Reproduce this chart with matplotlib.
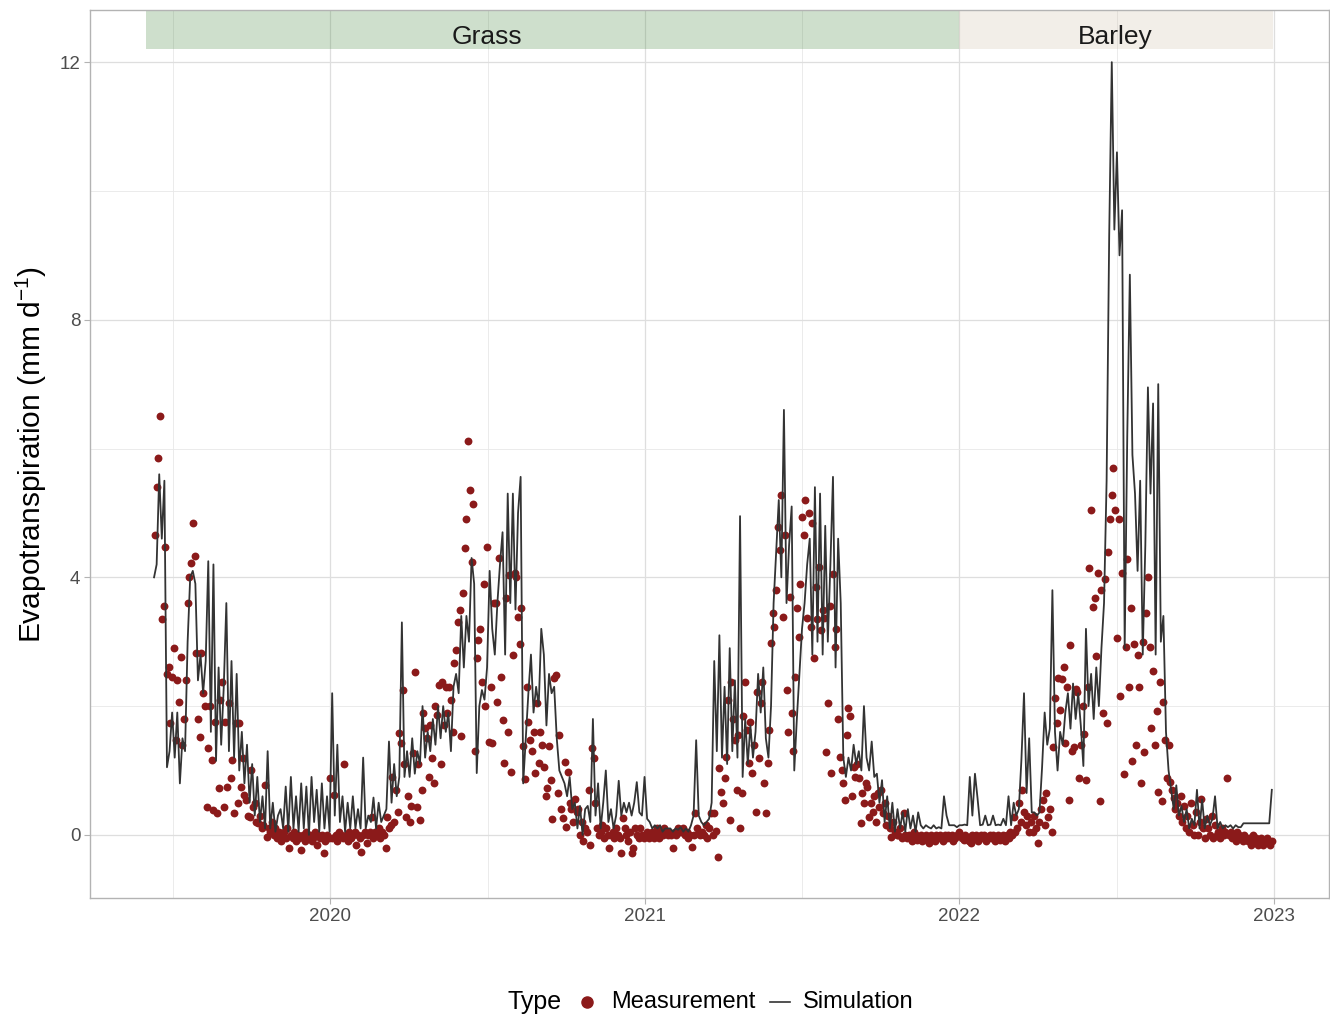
import matplotlib
matplotlib.use('Agg')
import matplotlib.pyplot as plt
import matplotlib.dates as mdates
from matplotlib.lines import Line2D
from matplotlib.patches import Rectangle
import numpy as np
import pandas as pd

plt.rcParams['font.family'] = ['Liberation Sans', 'DejaVu Sans']
plt.rcParams['mathtext.fontset'] = 'custom'
plt.rcParams['mathtext.rm'] = 'Liberation Sans'
plt.rcParams['mathtext.it'] = 'Liberation Sans'

# ---------------- data ----------------
# Simulated ET (mm/d), every 3 days starting 2019-06-10
sim_2019 = [4.0, 4.2, 5.6, 4.6, 5.5, 1.05, 1.3, 1.9, 1.2, 1.9, 0.8, 1.5, 1.3, 3.0, 4.0, 4.1, 3.9,
            2.4, 2.8, 2.2, 2.7, 4.25, 1.6, 4.2, 1.15, 2.6, 1.4, 2.3, 3.6, 1.3, 2.7, 1.2, 2.5,
            1.0, 1.6, 0.8, 1.4, 0.5, 1.1, 0.3, 0.9, 0.2, 0.6, 0.1, 1.3, 0.1, 0.5, 0.05, 0.3,
            0.4, 0.1, 0.75, 0.05, 0.9, 0.1, 0.6, 0.05, 0.8, 0.1, 0.75, 0.0, 0.9, 0.2, 0.7,
            0.05, 0.8, 0.1, 0.6, 0.05]
sim_2020 = [2.2, 0.3, 1.4, 0.2, 0.6, 0.05, 0.5, 0.1, 0.6, 0.1, 0.4, 0.1, 1.2, 0.1, 0.3, 0.2,
            0.58, 0.1, 0.5, 0.2, 0.3, 0.4, 1.45, 0.5, 1.1, 0.6, 0.9, 3.3, 0.9, 1.3, 0.9, 1.5,
            0.95, 1.3, 1.1, 2.0, 1.2, 1.6, 1.3, 1.8, 1.4, 2.0, 1.5, 2.0, 1.6, 1.9, 1.3, 2.3,
            2.5, 2.2, 3.4, 2.6, 3.4, 3.0, 4.3, 3.9, 0.96, 2.0, 2.25, 2.1, 2.6, 4.1, 3.2, 2.8,
            3.6, 4.2, 4.7, 2.8, 5.3, 3.6, 5.3, 3.5, 5.0, 5.56, 0.8, 1.5, 2.2, 2.8, 1.9, 2.3,
            2.0, 3.2, 2.8, 1.7, 2.5, 2.2, 2.3, 1.5, 1.0, 0.9, 0.8, 0.6, 0.9, 0.4, 0.5, 0.1,
            0.45, 0.0, 0.4, 0.45, 0.2, 1.8, 0.3, 0.8, 0.1, 0.5, 1.0, 0.2, 0.4, 0.1, 0.3, 0.84,
            0.3, 0.5, 0.35, 0.5, 0.3, 0.5, 0.82, 0.35, 0.3, 0.9]
sim_2021 = [0.25, 0.2, 0.1, 0.15, 0.1, 0.15, 0.05, 0.1, 0.1, 0.1, 0.05, 0.1, 0.08, 0.12, 0.05,
            0.1, 0.05, 0.15, 0.3, 1.47, 0.3, 0.2, 0.15, 0.2, 0.25, 0.5, 2.7, 1.3, 3.1, 1.2,
            2.3, 1.1, 2.9, 1.3, 2.4, 1.2, 4.95, 0.9, 1.8, 1.1, 1.7, 1.2, 1.6, 2.5, 1.9, 2.6,
            1.5, 1.2, 2.0, 3.6, 4.4, 5.2, 4.0, 6.6, 3.6, 4.5, 5.1, 1.0, 1.8, 2.5, 3.2, 3.6,
            4.2, 4.6, 2.8, 5.4, 3.0, 5.3, 2.8, 4.8, 3.0, 4.2, 5.56, 2.6, 4.6, 3.6, 1.2, 0.9,
            1.2, 1.0, 1.4, 1.1, 1.3, 1.0, 2.0, 1.2, 1.0, 1.45, 0.9, 0.95, 0.5, 0.85, 0.2, 0.6,
            0.1, 0.5, 0.05, 0.4, 0.1, 0.35, 0.05, 0.4, 0.1, 0.3, 0.05, 0.35, 0.15, 0.1, 0.15,
            0.12, 0.1, 0.15, 0.1, 0.12, 0.1, 0.6, 0.3, 0.15, 0.15, 0.15, 0.12, 0.15]
sim_2022 = [0.15, 0.16, 0.15, 0.9, 0.3, 0.95, 0.57, 0.15, 0.16, 0.3, 0.15, 0.16, 0.3, 0.15,
            0.16, 0.15, 0.25, 0.15, 0.6, 0.15, 0.5, 0.3, 0.4, 1.17, 2.2, 0.65, 1.5, 0.35, 0.35,
            0.3, 0.35, 1.05, 1.9, 1.4, 1.65, 3.8, 1.6, 1.0, 1.6, 1.4, 1.9, 2.2, 1.65, 2.35,
            1.8, 2.2, 1.7, 1.07, 3.2, 2.0, 2.5, 1.8, 2.6, 2.0, 2.9, 3.6, 5.5, 9.3, 12.0, 9.4,
            10.6, 9.0, 9.7, 2.9, 6.2, 8.7, 5.9, 5.3, 4.1, 5.5, 2.8, 4.5, 6.95, 5.3, 6.7, 2.8,
            7.0, 3.0, 3.4, 1.6, 1.0, 0.7, 0.4, 0.77, 0.3, 0.45, 0.2, 0.4, 0.1, 0.25, 0.15, 0.7,
            0.1, 0.55, 0.1, 0.3, 0.15, 0.25, 0.6, 0.1, 0.2, 0.1, 0.15, 0.12, 0.15, 0.1, 0.15,
            0.12, 0.12, 0.18, 0.18, 0.18, 0.18, 0.18, 0.18, 0.18, 0.18, 0.18, 0.18, 0.18, 0.7]

# Measured ET (mm/d), every 2 days starting 2019-06-11
meas_seg1 = [4.65, 5.4, 5.85, 6.5, 3.35, 3.55, 4.47, 2.5, 2.6, 1.74, 2.45, 2.9,
             1.47, 2.4, 2.07, 2.76, 1.4, 1.8, 2.4, 3.6, 4.0, 4.22, 4.85, 4.33,
             2.83, 1.8, 1.52, 2.83, 2.2, 2.0, 0.44, 1.35, 2.0, 1.16, 0.39, 1.75,
             0.34, 0.73, 2.1, 2.37, 0.44, 1.76, 0.75, 2.05, 0.89, 1.17, 0.34, 1.74,
             0.5, 1.74, 0.75, 1.2, 0.62, 0.54, 0.3, 0.28, 1.0, 0.44, 0.5, 0.2,
             0.19, 0.3, 0.1, 0.15, 0.78, -0.03, 0.1, 0.05, 0.2, 0.0, 0.1, -0.05,
             0.05, -0.1, 0.0, 0.05, -0.05, 0.1, -0.2, 0.0, -0.05, 0.05, -0.1, 0.0,
             -0.05, -0.23, 0.0, -0.1, 0.05, -0.05, 0.0, -0.1, -0.05, 0.05, -0.15, 0.0,
             -0.05, 0.0, -0.28, -0.1, 0.0, -0.05]
meas_seg2 = [0.88, -0.05, 0.62, 0.0, -0.1, 0.05, 0.0, -0.05, 1.1, 0.0, -0.1, 0.05,
             -0.05, 0.0, 0.05, -0.15, 0.0, -0.05, -0.26, 0.0, 0.05, -0.13, 0.0, 0.05,
             0.28, -0.05, 0.05, 0.0, 0.1, -0.05, 0.05, 0.0, -0.2, 0.28, 0.1, 0.15,
             0.9, 0.2, 0.7, 0.35, 1.58, 1.43, 2.25, 1.1, 0.28, 0.6, 0.2, 0.45,
             1.27, 2.53, 0.44, 1.1, 0.23, 0.7, 1.89, 1.66, 1.5, 0.9, 1.7, 1.2,
             0.8, 2.0, 1.86, 2.33, 1.1, 2.37, 1.7, 2.3, 1.9, 2.3, 2.1, 1.6,
             2.67, 2.87, 3.3, 3.5, 1.54, 3.76, 4.45, 4.9, 6.12, 5.35, 4.24, 5.14,
             1.3, 2.75, 3.03, 3.2, 2.37, 3.9, 2.0, 4.47, 1.45, 2.3, 1.43, 3.6,
             3.6, 2.07, 4.3, 2.45, 1.79, 1.12, 3.68, 1.6, 4.03, 0.98, 2.8, 4.06,
             4.0, 3.38, 2.97, 3.52, 1.38, 0.87, 2.3, 1.75, 1.47, 1.3, 1.6, 0.96,
             2.05, 1.12, 1.6, 1.4, 1.05, 0.6, 0.73, 1.38, 0.85, 0.24, 2.44, 2.48,
             0.65, 1.55, 0.4, 0.27, 1.13, 0.13, 0.97, 0.5, 0.4, 0.2, 0.55, 0.35,
             0.4, 0.0, 0.2, -0.1, 0.1, 0.05, 0.7, -0.16, 1.35, 1.2, 0.5, 0.1,
             0.0, 0.05, 0.15, -0.05, 0.1, 0.0, -0.2, 0.0, 0.05, -0.05, 0.1, 0.0,
             -0.05, -0.28, 0.26, 0.1, 0.0, -0.1, 0.05, -0.28, -0.2, 0.1, 0.0, -0.05,
             0.1, 0.0, -0.05, 0.0, 0.05, -0.05]
meas_seg3 = [0.0, 0.05, -0.05, 0.0, 0.1, -0.05, 0.05, 0.0, 0.1, 0.05, 0.0, 0.05,
             0.0, -0.2, 0.05, 0.0, 0.1, 0.05, 0.05, 0.1, 0.0, 0.05, -0.05, 0.0,
             -0.19, 0.0, 0.34, 0.1, 0.05, 0.0, 0.05, 0.0, 0.15, -0.05, 0.1, 0.34,
             0.0, 0.34, 0.06, -0.34, 1.04, 0.67, 0.49, 0.89, 1.21, 2.1, 0.23, 2.37,
             1.8, 1.47, 0.7, 1.55, 0.1, 0.65, 1.85, 2.37, 1.63, 1.12, 1.75, 0.96,
             1.4, 0.36, 2.22, 1.2, 2.05, 2.37, 0.8, 0.34, 1.12, 1.63, 2.98, 3.44,
             3.23, 3.8, 4.78, 4.42, 5.28, 3.39, 4.65, 2.25, 1.6, 3.7, 1.89, 1.3,
             2.45, 3.52, 3.08, 3.9, 4.94, 4.66, 5.2, 3.37, 5.0, 3.23, 4.85, 2.75,
             3.85, 3.35, 4.16, 3.18, 3.5, 3.37, 1.29, 2.05, 3.55, 0.96, 4.05, 2.92,
             3.2, 1.8, 1.21, 1.0, 0.8, 0.54, 1.55, 1.97, 1.85, 0.6, 1.06, 0.9,
             1.1, 0.88, 0.19, 0.65, 0.5, 0.8, 0.75, 0.28, 0.5, 0.36, 0.6, 0.2,
             0.65, 0.43, 0.7, 0.34, 0.5, 0.15, 0.3, 0.1, -0.03, 0.2, 0.05, 0.0,
             0.0, 0.1, -0.05, 0.34, 0.0, -0.05, 0.0, -0.05, -0.1, 0.05, 0.0, -0.08,
             -0.05, 0.0, -0.1, -0.05, 0.0, -0.1, -0.13, 0.0, -0.05, -0.1, 0.0, -0.05,
             0.0, -0.05, -0.1, 0.0, -0.05, 0.0, -0.05, 0.0, -0.1, -0.05, 0.0, 0.05]
meas_seg4 = [0.0, -0.05, -0.08, 0.0, -0.05, -0.1, -0.13, 0.0, -0.05, 0.0, -0.1, -0.05,
             0.0, -0.05, 0.0, -0.1, -0.05, 0.0, -0.05, 0.0, -0.1, -0.05, 0.0, -0.08,
             -0.05, 0.0, -0.1, 0.0, -0.05, 0.05, 0.0, 0.28, 0.05, 0.1, 0.49, 0.2,
             0.7, 0.35, 0.15, 0.3, 0.05, 0.2, 0.05, 0.3, 0.1, -0.13, 0.2, 0.4,
             0.54, 0.15, 0.65, 0.28, 0.4, 0.05, 1.37, 2.13, 1.74, 2.44, 1.94, 2.42,
             2.6, 1.42, 2.29, 0.54, 2.95, 1.3, 1.37, 2.26, 2.22, 0.88, 1.4, 2.0,
             1.56, 0.85, 2.3, 4.15, 5.05, 3.54, 3.68, 2.78, 4.07, 0.53, 3.8, 1.9,
             3.97, 1.73, 4.4, 4.9, 5.28, 5.7, 5.04, 3.05, 4.9, 2.16, 4.07, 0.95,
             2.92, 4.28, 2.3, 3.52, 1.15, 2.96, 1.4, 2.8, 2.29, 0.8, 3.0, 1.28,
             3.44, 4.0, 2.92, 1.66, 2.55, 1.4, 1.93, 0.66, 2.37, 0.52, 2.06, 1.48,
             0.88, 1.4, 0.82, 0.7, 0.58, 0.4, 0.5, 0.3, 0.6, 0.2, 0.45, 0.1,
             0.3, 0.05, 0.5, 0.15, 0.0, 0.35, 0.0, 0.2, 0.55, 0.1, -0.05, 0.25,
             0.1, 0.0, 0.3, -0.05, 0.15, 0.0, 0.05, -0.05, 0.1, 0.0, 0.05, 0.88,
             0.0, 0.05, -0.05, 0.0, -0.1, 0.05, 0.0, -0.05, -0.1, 0.0, -0.05, -0.1,
             -0.05, -0.15, 0.0, -0.1, -0.05, -0.15, -0.1, -0.05, -0.15, -0.1, -0.05, -0.1,
             -0.15, -0.1]

crops = ['Grass', 'Barley']
crop_start = ['2019-06-01', '2022-01-01']
crop_end = ['2022-01-01', '2022-12-31']
crop_label_pos = ['2020-07-01', '2022-07-01']
crop_colors = ['#3F8337', '#CFBFA7']

year_ticks = ['2020-01-01', '2021-01-01', '2022-01-01', '2023-01-01']
year_labels = ['2020', '2021', '2022', '2023']
y_ticks = [0, 4, 8, 12]

# ---------------- figure ----------------
sim = np.array(sim_2019 + sim_2020 + sim_2021 + sim_2022)
meas = np.array(meas_seg1 + meas_seg2 + meas_seg3 + meas_seg4)
sim_dates = pd.date_range('2019-06-10', periods=len(sim), freq='3D')
meas_dates = pd.date_range('2019-06-11', periods=len(meas), freq='2D')

W, H = 1330, 1017
fig = plt.figure(figsize=(W / 100, H / 100), dpi=100)
ax = fig.add_axes([90 / W, 1 - 898 / H, (1329 - 90) / W, (898 - 10) / H])

ax.scatter(meas_dates, meas, s=32, color='#8B1A1A', linewidths=0, zorder=3)
ax.plot(sim_dates, sim, color='#333333', lw=1.3, zorder=4)

# strips
for c, s0, s1, lp, col in zip(crops, crop_start, crop_end, crop_label_pos, crop_colors):
    x0 = mdates.date2num(pd.Timestamp(s0))
    x1 = mdates.date2num(pd.Timestamp(s1))
    ax.add_patch(Rectangle((x0, 12.2), x1 - x0, 1.0, facecolor=col, alpha=0.25,
                           edgecolor='none', zorder=2))
    ax.text(mdates.date2num(pd.Timestamp(lp)), 12.39, c, ha='center', va='center',
            fontsize=19, color='#1A1A1A', zorder=5)

xmin = mdates.date2num(pd.Timestamp(crop_start[0]))
xmax = mdates.date2num(pd.Timestamp(crop_end[-1]))
pad = 0.05 * (xmax - xmin)
ax.set_xlim(xmin - pad, xmax + pad)
ax.set_ylim(-0.98, 12.81)

xt = [mdates.date2num(pd.Timestamp(t)) for t in year_ticks]
ax.set_xticks(xt)
ax.set_xticklabels(year_labels)
minors = [mdates.date2num(pd.Timestamp('2019-07-02'))] + [(a + b) / 2 for a, b in zip(xt[:-1], xt[1:])]
ax.set_xticks(minors, minor=True)
ax.set_yticks(y_ticks)
ax.set_yticks([2, 6, 10], minor=True)

ax.set_axisbelow(True)
ax.grid(which='major', color='#DEDEDE', lw=0.9)
ax.grid(which='minor', color='#E8E8E8', lw=0.6)
ax.tick_params(which='major', length=4, width=0.8, color='#B3B3B3', labelsize=13.5,
               labelcolor='#4D4D4D', pad=3)
ax.tick_params(which='minor', length=0)
for sp in ax.spines.values():
    sp.set_color('#B3B3B3')
    sp.set_linewidth(1.0)

fig.text(31 / W, 1 - 454 / H, 'Evapotranspiration (mm d$^{-1}$)', rotation=90,
         ha='center', va='center', fontsize=21.5, color='#000000')

# legend (bottom)
ly = 1 - 1002 / H
fig.text(507 / W, ly, 'Type', ha='left', va='center', fontsize=18, color='#000000')
fig.add_artist(Line2D([587 / W], [ly], transform=fig.transFigure, marker='o', markersize=8,
                      color='#8B1A1A', linestyle='None'))
fig.text(611 / W, ly, 'Measurement', ha='left', va='center', fontsize=17, color='#000000')
fig.add_artist(Line2D([770 / W, 790 / W], [ly, ly], transform=fig.transFigure,
                      color='#333333', lw=1.2))
fig.text(803 / W, ly, 'Simulation', ha='left', va='center', fontsize=17, color='#000000')

fig.savefig('out.png', dpi=100)
